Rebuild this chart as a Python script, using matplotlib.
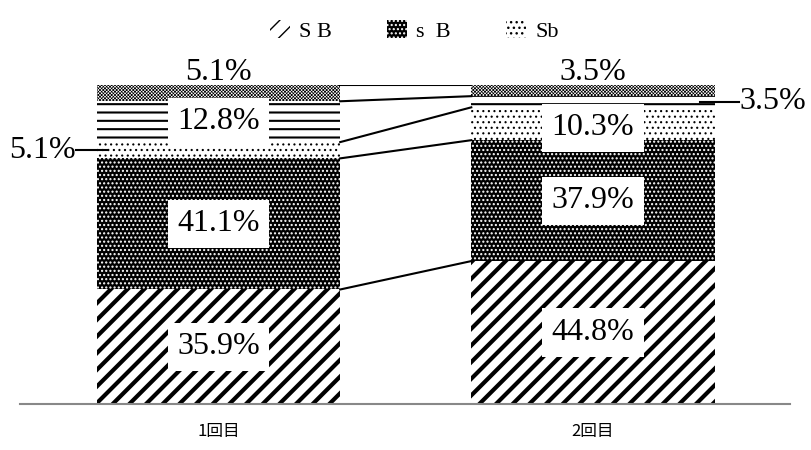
import matplotlib
matplotlib.use("Agg")
import matplotlib.pyplot as plt
import numpy as np

# data (percent, bottom to top)
categories = ["1回目", "2回目"]
series_names = ["S B", "s  B", "Sb", "sb", "other"]
sb_upper = [35.9, 44.8]
sB = [41.1, 37.9]
Sb = [5.1, 10.3]
sb_lower = [12.8, 3.5]
top_part = [5.1, 3.5]

serif = "Liberation Serif"
plt.rcParams["font.family"] = [serif, "Noto Sans CJK JP", "DejaVu Sans"]

fig = plt.figure(figsize=(8.12, 4.5), dpi=100)
ax = fig.add_axes([20 / 812, 46 / 450, 770 / 812, 319 / 450])

x = np.arange(len(categories))
width = 0.65

layers = [sb_upper, sB, Sb, sb_lower, top_part]
# (facecolor, hatchcolor, hatch, hatch linewidth)
styles = [
    ("white", "black", "//", 3.0),
    ("black", "white", "....", 1.0),
    ("white", "black", "...", 0.8),
    ("white", "black", "--", 1.5),
    ("white", "black", "xxxxxxxxxx", 0.5),
]

bottoms = np.zeros(len(categories))
bars = []
for vals, (fc, hc, hatch, hlw) in zip(layers, styles):
    with plt.rc_context({"hatch.linewidth": hlw, "hatch.color": hc}):
        b = ax.bar(x, vals, width, bottom=bottoms, color=fc, edgecolor=hc,
                   hatch=hatch, linewidth=0)
    bars.append(b)
    bottoms = bottoms + np.array(vals)

# connector lines between the two bars
cum = np.cumsum(np.array(layers), axis=0)
for row in cum:
    ax.plot([x[0] + width / 2, x[1] - width / 2], [row[0], row[1]],
            color="black", lw=1.5, zorder=1)

box = dict(boxstyle="square,pad=0.3", fc="white", ec="none")
lab_size = 23

def pct(v):
    return f"{v:.1f}%"

# labels inside the bars
starts = np.vstack([np.zeros(2), cum[:-1]])
for i in range(2):
    for layer in (0, 1):
        y = starts[layer][i] + layers[layer][i] / 2
        ax.text(x[i], y, pct(layers[layer][i]), ha="center", va="center",
                fontsize=lab_size, family=serif, bbox=box, zorder=5)

# 12.8% and 10.3%
ax.text(x[0], starts[3][0] + sb_lower[0] / 2, pct(sb_lower[0]), ha="center",
        va="center", fontsize=lab_size, family=serif, bbox=box, zorder=5)
ax.text(x[1], starts[2][1] + Sb[1] / 2 - 1.2, pct(Sb[1]), ha="center",
        va="center", fontsize=lab_size, family=serif, bbox=box, zorder=5)

# top labels
for i in range(2):
    ax.text(x[i], 104, pct(top_part[i]), ha="center", va="center",
            fontsize=lab_size, family=serif, zorder=5)

# leader labels
y_l = starts[2][0] + Sb[0] / 2
ax.plot([x[0] - width / 2 - 0.055, x[0] - width / 2 + 0.03], [y_l, y_l],
        color="black", lw=1.5, zorder=6)
ax.text(x[0] - width / 2 - 0.055, y_l, pct(Sb[0]), ha="right", va="center",
        fontsize=lab_size, family=serif)
y_r = starts[3][1] + sb_lower[1] / 2
ax.plot([x[1] + width / 2 - 0.04, x[1] + width / 2 + 0.065], [y_r, y_r],
        color="black", lw=1.5, zorder=6)
ax.text(x[1] + width / 2 + 0.065, y_r, pct(sb_lower[1]), ha="left",
        va="center", fontsize=lab_size, family=serif)

ax.set_xlim(-0.53, 1.526)
ax.set_ylim(0, 100)
ax.set_xticks(x)
ax.set_xticklabels(categories, family="Noto Sans CJK JP", fontsize=12)
ax.tick_params(axis="x", length=0, pad=14)
ax.set_yticks([])
for s in ("top", "left", "right"):
    ax.spines[s].set_visible(False)
ax.spines["bottom"].set_color("#888888")
ax.spines["bottom"].set_linewidth(1.5)

fig.legend([bars[0][0], bars[1][0], bars[2][0]], series_names[:3],
           loc="upper center", bbox_to_anchor=(0.51, 1.0), ncol=3,
           frameon=False, fontsize=16, handlelength=0.9, handleheight=0.9,
           columnspacing=2.5, handletextpad=0.4)

fig.savefig("out.png", dpi=100)
